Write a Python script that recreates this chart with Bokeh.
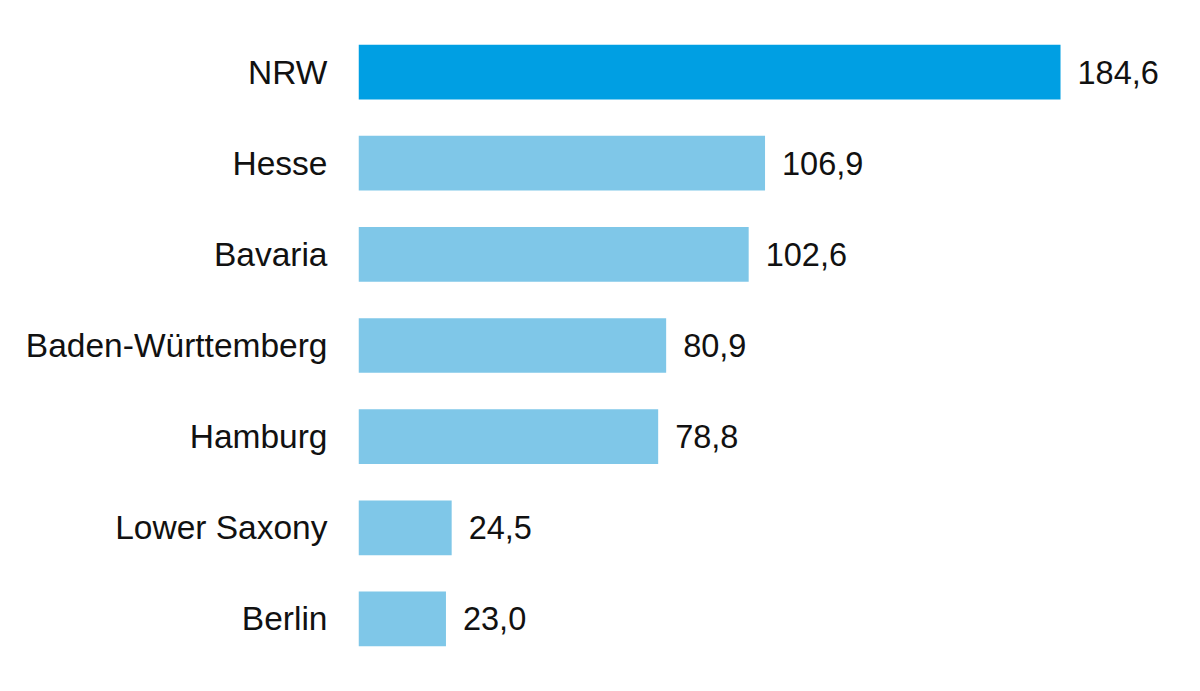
from bokeh.plotting import figure
from bokeh.models import ColumnDataSource, Range1d, FactorRange
from bokeh.core.properties import value
from bokeh.embed import file_html
from bokeh.resources import INLINE

# Data, top to bottom
states = ["NRW", "Hesse", "Bavaria", "Baden-Württemberg", "Hamburg", "Lower Saxony", "Berlin"]
amounts = [184.6, 106.9, 102.6, 80.9, 78.8, 24.5, 23.0]
labels = ["184,6", "106,9", "102,6", "80,9", "78,8", "24,5", "23,0"]
colors = ["#009FE3", "#7FC7E8", "#7FC7E8", "#7FC7E8", "#7FC7E8", "#7FC7E8", "#7FC7E8"]

src = ColumnDataSource(data=dict(state=states, amount=amounts, label=labels, color=colors))

font = "Liberation Sans"

p = figure(y_range=FactorRange(factors=states[::-1], range_padding=0),
           x_range=Range1d(0, 217.2),
           width=1184, height=683, output_backend="svg", toolbar_location=None, tools="",
           min_border_left=358, min_border_right=0, min_border_top=26, min_border_bottom=19)

p.hbar(y="state", right="amount", left=0, height=0.6, color="color", line_color=None, source=src)

p.text(x="amount", y="state", text="label", source=src, x_offset=17,
       text_align="left", text_baseline="middle",
       text_font=value(font), text_font_size="32.5px", text_color="#111111")

# Axis styling: only category labels on the left
p.xaxis.visible = False
p.yaxis.axis_line_color = None
p.yaxis.major_tick_line_color = None
p.yaxis.minor_tick_line_color = None
p.yaxis.major_label_standoff = 25
p.yaxis.major_label_text_font = font
p.yaxis.major_label_text_font_size = "33.5px"
p.yaxis.major_label_text_color = "#111111"
p.xgrid.grid_line_color = None
p.ygrid.grid_line_color = None
p.outline_line_color = None

open("out.html", "w").write(file_html(p, INLINE))
